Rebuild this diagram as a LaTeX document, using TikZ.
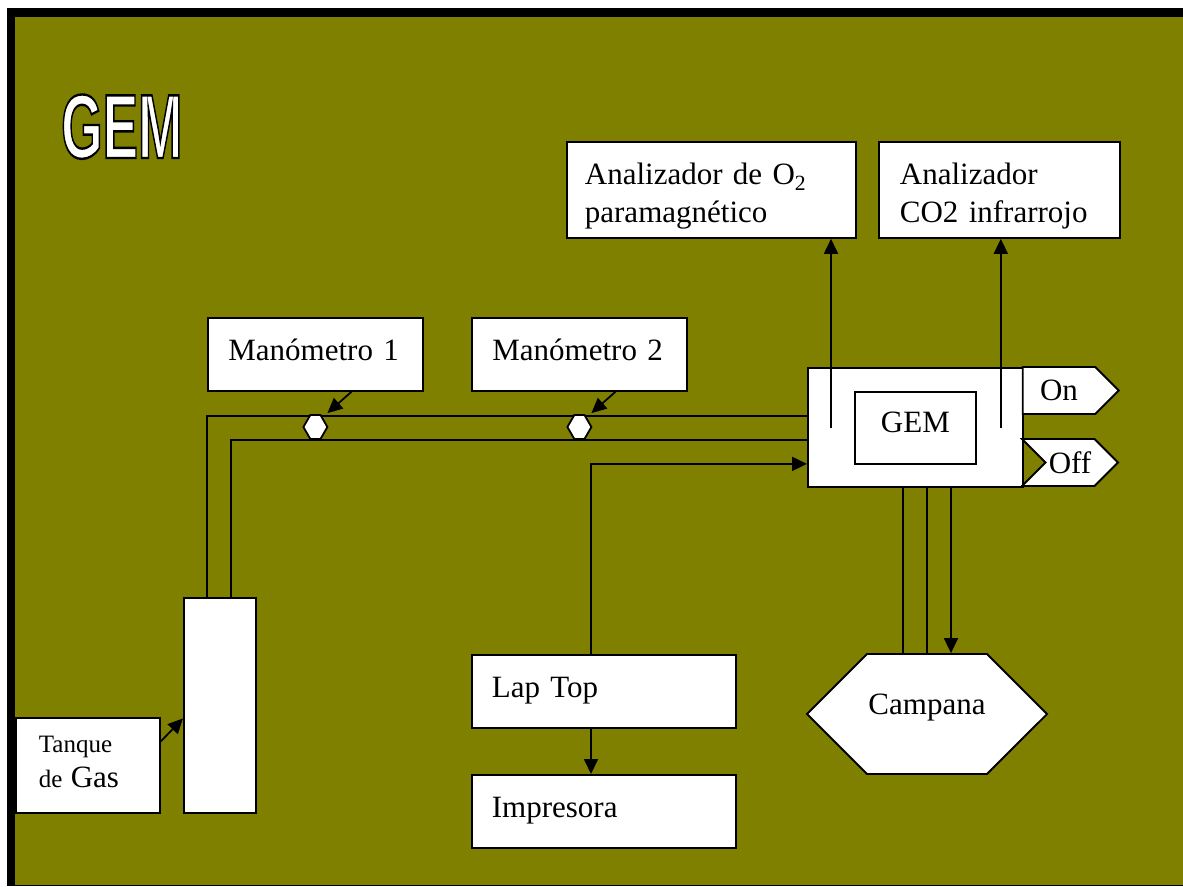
\documentclass[tikz,border=0pt]{standalone}
\usepackage{fontspec}
\setmainfont{Liberation Serif}
\newfontfamily\titlefont{Liberation Sans}
\usepackage{graphicx}
\usetikzlibrary{arrows.meta,shapes.symbols,calc}
\definecolor{gemolive}{HTML}{808000}
\tikzset{>/.tip={Triangle[length=15pt,width=14pt]}}
% outlined lettering (fill white, stroke black)
\newcommand{\outlined}[1]{\special{pdf:literal direct 2 Tr 2.4 w 0 G}#1\special{pdf:literal direct 0 Tr}}

\begin{document}
\begin{tikzpicture}[x=1pt,y=-1pt,
  font=\fontsize{31}{38}\selectfont,
  unit/.style={draw, fill=white, line width=1.8pt, anchor=north west, inner xsep=20pt, inner ysep=0pt, align=left, text height=43pt},
  frame/.style={draw, fill=white, line width=1.8pt, anchor=north west, inner sep=0pt},
  valve/.style={signal, signal to=west and east, signal pointer angle=120, draw, fill=white, line width=1.8pt, minimum width=24pt, minimum height=24pt, inner sep=0pt},
  tab/.style={signal, signal pointer angle=90, draw, fill=white, line width=1.8pt, minimum width=96pt, minimum height=47pt, inner sep=0pt},
  pipe/.style={line width=1.8pt},
  banner/.style={anchor=base west, inner sep=0pt, font=\titlefont\bfseries\fontsize{91}{91}\selectfont}]

% background and frame
\path[use as bounding box, fill=white] (0,0) rectangle (1183,886);
\fill[black] (7,8) rectangle (1183,886);
\fill[gemolive] (15,17) rectangle (1183,884.5);

% title
\node[banner, text=white] (title) at (61,158) {\scalebox{0.585}[1]{\outlined{GEM}}};

% tank and GEM unit
\node[frame, minimum width=72pt, minimum height=215pt] (cyl) at (183,597) {};
\node[frame, minimum width=215pt, minimum height=119pt] (gem) at (807,367) {};
\node[unit, align=center, text width=81pt, text height=41pt, text depth=31pt] (core) at (854,391) {GEM};

% gas lines
\draw[pipe] ([xshift=24pt]cyl.north west) |- ([yshift=11.5pt]gem.west);
\draw[pipe] ([xshift=48pt]cyl.north west) |- ([yshift=-12.5pt]gem.west);

% boxes
\node[unit, text width=253pt, text depth=53pt, inner xsep=18pt] (o2) at (566,141) {Analizador de O\textsubscript{2}\\paramagnético};
\node[unit, text width=199pt, text depth=53pt, inner xsep=21pt] (co2) at (878,141) {Analizador\\CO2 infrarrojo};
\node[unit, text width=174pt, text depth=30pt, inner xsep=20.5pt] (man1) at (207,317) {Manómetro 1};
\node[unit, text width=174pt, text depth=30pt, inner xsep=20.5pt] (man2) at (471,317) {Manómetro 2};
\node[unit, text width=224pt, text depth=30pt] (laptop) at (471,654) {Lap Top};
\node[unit, text width=224pt, text depth=30pt] (printer) at (471,774) {Impresora};
\node[unit, text width=98pt, text height=35pt, text depth=60pt, inner xsep=23pt, font=\fontsize{25}{35}\selectfont] (tank) at (15,717) {Tanque\\de {\fontsize{31}{35}\selectfont Gas}};

% valves
\node[valve] (v1) at (man1.south |- 0,427) {};
\node[valve] (v2) at (man2.south |- 0,427) {};

% on / off and hood
\node[tab, signal to=east] (on) at (1059,390.5) {On};
\node[tab, signal from=west, signal to=east] (off) at (1070,462.5) {Off};
\node[signal, signal to=west and east, signal pointer angle=90, draw, fill=white, line width=1.8pt, minimum width=240pt, minimum height=120pt, inner sep=0pt, text height=23pt, text depth=23pt] (campana) at (927,714) {Campana};

% arrows
\draw[pipe,->] ([xshift=36pt]man1.south) -- ([xshift=12pt,yshift=1pt]v1.north);
\draw[pipe,->] ([xshift=36pt]man2.south) -- ([xshift=12pt,yshift=1pt]v2.north);
\draw[pipe,->] ([yshift=24pt]tank.east) -- ([yshift=-13pt]cyl.west);

\coordinate (o2in) at ([xshift=24pt,yshift=-61pt]gem.north west);
\coordinate (co2in) at ([xshift=-23pt,yshift=-61pt]gem.north east);
\draw[pipe,->] (o2in) -- (o2in |- o2.south);
\draw[pipe,->] (co2in) -- (co2in |- co2.south);

\coordinate (lapout) at ([xshift=120pt]laptop.north west);
\draw[pipe,->] (lapout) |- ([yshift=-36.5pt]gem.west);
\draw[pipe,->] (lapout |- laptop.south) -- (lapout |- printer.north);

\coordinate (hood) at (campana.north);
\draw[pipe] ($(hood)+(-24,0)$) -- ($(hood |- gem.south)+(-24,0)$);
\draw[pipe] (hood) -- (hood |- gem.south);
\draw[pipe,<-] ($(hood)+(24,0)$) -- ($(hood |- gem.south)+(24,0)$);
\end{tikzpicture}
\end{document}
